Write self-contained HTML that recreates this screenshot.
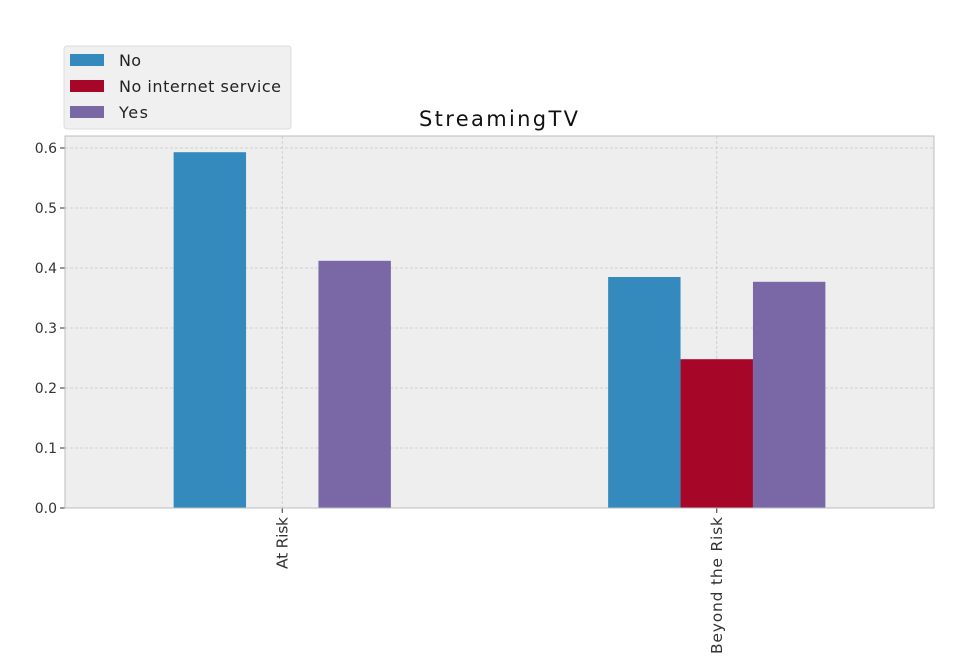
<!DOCTYPE html>
<html><head><meta charset="utf-8"><style>
html,body{margin:0;padding:0;background:#fff;}
svg{display:block;font-family:"DejaVu Sans","Liberation Sans",sans-serif;}
</style></head><body>
<svg id="chart" width="968" height="660"></svg>
<script>
const categories = ["At Risk", "Beyond the Risk"];
const seriesNames = ["No", "No internet service", "Yes"];
const seriesNo = [0.593, 0.385];
const seriesNoInternet = [0.0, 0.248];
const seriesYes = [0.412, 0.377];
const yTicks = [0.0, 0.1, 0.2, 0.3, 0.4, 0.5, 0.6];
const colors = ["#348ABD", "#A60628", "#7A68A6"];

const NS = "http://www.w3.org/2000/svg";
const svg = document.getElementById('chart');
const L = 65, R = 934, T = 136, B = 508;
const yMax = 0.62;
const y = v => B - v / yMax * (B - T);
const x = v => L + (v + 0.5) / 2 * (R - L);
function mk(tag, attrs, parent) {
  const e = document.createElementNS(NS, tag);
  for (const k in attrs) e.setAttribute(k, attrs[k]);
  (parent || svg).appendChild(e);
  return e;
}
const bg = mk('rect', {x: L, y: T, width: R - L, height: B - T, fill: '#EEEEEE'});


yTicks.forEach(t => {
  const g = mk('line', {x1: L, x2: R, y1: y(t), y2: y(t), stroke: '#c8c8c8', 'stroke-dasharray': '3,2', 'stroke-width': 0.8});
  
  
  mk('line', {x1: L - 5, x2: L, y1: y(t), y2: y(t), stroke: '#333', 'stroke-width': 1});
  const tx = mk('text', {x: L - 8, y: y(t) + 5, 'text-anchor': 'end', 'font-size': 14, fill: '#333'});
  tx.textContent = t.toFixed(1);
  
  
});
categories.forEach((c, i) => {
  const g = mk('line', {x1: x(i), x2: x(i), y1: T, y2: B, stroke: '#c8c8c8', 'stroke-dasharray': '3,2', 'stroke-width': 0.8});
  
  
});
const all = [seriesNo, seriesNoInternet, seriesYes];
const bw = 0.5 / 3;
all.forEach((s, si) => {
  s.forEach((v, i) => {
    const x0 = x(i - 0.25 + si * bw), x1 = x(i - 0.25 + (si + 1) * bw);
    const r = mk('rect', {x: x0, y: y(v), width: x1 - x0, height: B - y(v), fill: colors[si]});
    
    
  });
});
const xLabelLengths = [52, 137];
categories.forEach((c, i) => {
  mk('line', {x1: x(i), x2: x(i), y1: B, y2: B + 5, stroke: '#333'});
  const tx = mk('text', {x: 0, y: 0, 'text-anchor': 'end', 'font-size': 15.5, fill: '#333', transform: `translate(${x(i) + 5},${B + 9}) rotate(-90)`});
  tx.textContent = c;
  tx.setAttribute('textLength', xLabelLengths[i]);
  
  
});
const frame = mk('rect', {x: L, y: T, width: R - L, height: B - T, fill: 'none', stroke: '#bcbcbc', 'stroke-width': 1});


const title = mk('text', {x: 419, y: 126, 'font-size': 21, fill: '#111', textLength: 159});
title.textContent = 'StreamingTV';


const lg = mk('g', {});


mk('rect', {x: 64, y: 46, width: 227, height: 83, rx: 3, fill: '#F0F0F0', stroke: '#dddddd'}, lg);
const legendWidths = [22, 162, 29];
seriesNames.forEach((n, i) => {
  const e = mk('g', {}, lg);
  
  
  mk('rect', {x: 70, y: 54 + i * 26, width: 34, height: 12, fill: colors[i]}, e);
  const t = mk('text', {x: 119, y: 66 + i * 26, 'font-size': 16, fill: '#222', textLength: legendWidths[i]}, e);
  t.textContent = n;
});
</script>
</body></html>
